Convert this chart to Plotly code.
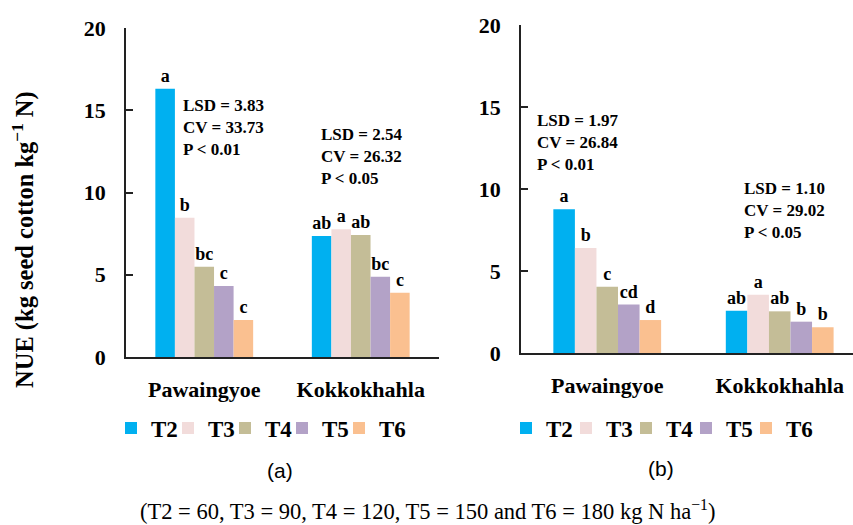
import plotly.graph_objects as go

# ---------------- data ----------------
sites = ["Pawaingyoe", "Kokkokhahla"]
treatments = ["T2", "T3", "T4", "T5", "T6"]
colors = ["#00B0F0", "#F2DCDB", "#C4BD97", "#B3A2C7", "#FAC090"]

# panel (a): values per treatment [Pawaingyoe, Kokkokhahla]
nue_a = {
    "T2": [16.3, 7.35],
    "T3": [8.47, 7.76],
    "T4": [5.49, 7.42],
    "T5": [4.32, 4.88],
    "T6": [2.25, 3.91],
}
letters_a = {
    "T2": ["a", "ab"],
    "T3": ["b", "a"],
    "T4": ["bc", "ab"],
    "T5": ["c", "bc"],
    "T6": ["c", "c"],
}
# panel (b)
nue_b = {
    "T2": [8.76, 2.58],
    "T3": [6.40, 3.55],
    "T4": [4.04, 2.54],
    "T5": [2.95, 1.91],
    "T6": [2.01, 1.57],
}
letters_b = {
    "T2": ["a", "ab"],
    "T3": ["b", "a"],
    "T4": ["c", "ab"],
    "T5": ["cd", "b"],
    "T6": ["d", "b"],
}
stats_a = ["LSD = 3.83<br>CV = 33.73<br>P < 0.01", "LSD = 2.54<br>CV = 26.32<br>P < 0.05"]
stats_b = ["LSD = 1.97<br>CV = 26.84<br>P < 0.01", "LSD = 1.10<br>CV = 29.02<br>P < 0.05"]

y_ticks = [0, 5, 10, 15, 20]

# ---------------- styling ----------------
SERIF = "Liberation Serif, Times New Roman, serif"
SANS = "Liberation Sans, Arial, sans-serif"
W, H = 853, 525


def px_x(p):
    return p / W


def px_y(p):
    return 1 - p / H


fig = go.Figure()

for i, (t, c) in enumerate(zip(treatments, colors)):
    fig.add_trace(go.Bar(
        x=sites, y=nue_a[t], name=t, marker=dict(color=c, line=dict(width=0)),
        text=letters_a[t], textposition="outside", constraintext="none",
        textfont=dict(family=SERIF, size=18, color="black", weight="bold"),
        xaxis="x", yaxis="y", legend="legend", cliponaxis=False,
        legendwidth=12 if i < len(treatments) - 1 else 32,
    ))
for i, (t, c) in enumerate(zip(treatments, colors)):
    fig.add_trace(go.Bar(
        x=sites, y=nue_b[t], name=t, marker=dict(color=c, line=dict(width=0)),
        text=letters_b[t], textposition="outside", constraintext="none",
        textfont=dict(family=SERIF, size=18, color="black", weight="bold"),
        xaxis="x2", yaxis="y2", legend="legend2", cliponaxis=False,
        legendwidth=15 if i < len(treatments) - 1 else 32,
    ))

tickfont = dict(family=SERIF, size=22, color="black", weight="bold")
common_x = dict(type="category", showline=True, linecolor="#222", linewidth=2,
                ticks="", showgrid=False, zeroline=False, tickfont=tickfont,
                ticklabelstandoff=12, automargin=False)
common_y = dict(range=[0, 20], tickvals=y_ticks, showline=True, linecolor="#222",
                linewidth=1.5, ticks="inside", ticklen=7, tickwidth=1.5, tickcolor="#222",
                showgrid=False, zeroline=False, tickfont=tickfont, ticklabelstandoff=14,
                automargin=False)

legend_common = dict(orientation="h", yanchor="middle", xanchor="left",
                     font=dict(family=SERIF, size=23, color="black", weight="bold"),
                     bgcolor="rgba(0,0,0,0)", borderwidth=0,
                     entrywidthmode="pixels", itemwidth=30, traceorder="normal")

fig.update_layout(
    template="none",
    width=W, height=H,
    margin=dict(l=0, r=0, t=0, b=0, autoexpand=False),
    paper_bgcolor="white", plot_bgcolor="white",
    font=dict(family=SERIF, color="black"),
    barmode="group", bargap=0.375, bargroupgap=0,
    xaxis=dict(domain=[px_x(126), px_x(439)], range=[-0.5, 1.5], anchor="y", **common_x),
    yaxis=dict(domain=[px_y(357), px_y(28)], anchor="x", **common_y),
    xaxis2=dict(domain=[px_x(521), 1.0], range=[-0.5, 1.425], anchor="y2", **common_x),
    yaxis2=dict(domain=[px_y(353), px_y(25)], anchor="x2", **common_y),
    legend=dict(x=px_x(111), y=px_y(428), **legend_common),
    legend2=dict(x=px_x(506), y=px_y(428), **legend_common),
    showlegend=True,
)

stat_font = dict(family=SERIF, size=17, color="black", weight="bold")
ann = []
# stats annotations (positions relative to category index)
for (txt, xv, yv) in [(stats_a[0], -0.146, 16.0), (stats_a[1], 0.732, 14.2)]:
    ann.append(dict(x=xv, y=yv, xref="x", yref="y", text=txt, showarrow=False,
                    xanchor="left", yanchor="top", align="left", font=stat_font))
for (txt, xv, yv) in [(stats_b[0], -0.419, 14.9), (stats_b[1], 0.78, 10.73)]:
    ann.append(dict(x=xv, y=yv, xref="x2", yref="y2", text=txt, showarrow=False,
                    xanchor="left", yanchor="top", align="left", font=stat_font))

# y-axis title
ann.append(dict(x=px_x(24), y=px_y(240), xref="paper", yref="paper",
                text="NUE (kg seed cotton kg<sup>\u22121</sup> N)", textangle=-90,
                showarrow=False, xanchor="center", yanchor="middle",
                font=dict(family=SERIF, size=24.5, color="black", weight="bold")))
# panel labels
ann.append(dict(x=px_x(280), y=px_y(470), xref="paper", yref="paper", text="(a)",
                showarrow=False, xanchor="center", yanchor="middle",
                font=dict(family=SANS, size=21, color="black")))
ann.append(dict(x=px_x(661), y=px_y(468), xref="paper", yref="paper", text="(b)",
                showarrow=False, xanchor="center", yanchor="middle",
                font=dict(family=SANS, size=21, color="black")))
# footer
ann.append(dict(x=px_x(427), y=px_y(510), xref="paper", yref="paper",
                text="(T2 = 60, T3 = 90, T4 = 120, T5 = 150 and T6 = 180 kg N ha<sup>\u22121</sup>)",
                showarrow=False, xanchor="center", yanchor="middle",
                font=dict(family=SERIF, size=22.5, color="black")))

fig.update_layout(annotations=ann)

fig.write_html(
    "out.html",
    config={"displayModeBar": False},
    post_script="document.body.style.margin='0';document.body.style.overflow='hidden';",
)
